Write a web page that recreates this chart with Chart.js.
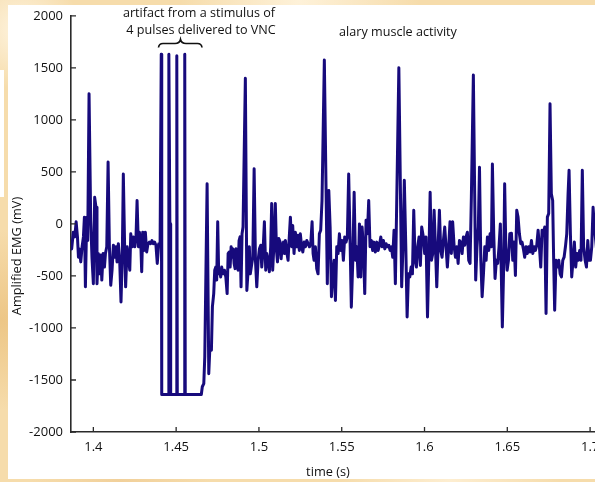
<!DOCTYPE html>
<html>
<head>
<meta charset="utf-8">
<script src="https://cdn.jsdelivr.net/npm/chart.js@4.4.1/dist/chart.umd.min.js"></script>
<style>
  html, body { margin: 0; padding: 0; width: 595px; height: 482px; overflow: hidden; }
  body {
    position: relative;
    background-color: #f6dcab;
    background-image:
      radial-gradient(circle at 20px 30px, rgba(255,246,228,0.9) 0, rgba(255,246,228,0) 60px),
      radial-gradient(circle at 300px 2px, rgba(255,244,222,0.9) 0, rgba(255,244,222,0) 120px),
      radial-gradient(circle at 2px 320px, rgba(236,196,130,0.9) 0, rgba(236,196,130,0) 90px),
      radial-gradient(circle at 450px 480px, rgba(255,242,218,0.8) 0, rgba(255,242,218,0) 110px),
      radial-gradient(circle at 120px 482px, rgba(240,205,150,0.8) 0, rgba(240,205,150,0) 90px);
  }
  #panel { position: absolute; left: 8px; top: 5px; width: 640px; height: 474px; background: #ffffff; }
  #scrap { position: absolute; left: 0; top: 70px; width: 4px; height: 127px; background: #ffffff; overflow: hidden; }
  #scrap span { position: absolute; left: -5px; top: 73px; font: 11px 'Open Sans', sans-serif; color: #333; }
  #wrap { position: absolute; left: 0; top: 0; width: 640px; height: 482px; }
</style>
</head>
<body>
<div id="panel"></div>
<div id="scrap"><span>?</span></div>
<div id="wrap"><canvas id="emg" width="640" height="482" style="width:640px;height:482px"></canvas></div>
<script>
// Amplified EMG recording, time in seconds, amplitude in mV
const timeS = [
  1.3859,1.3869,1.3879,1.3888,1.3896,1.3904,1.3910,1.3916,1.3924,1.3932,1.3940,1.3946,1.3952,1.3960,1.3966,1.3974,
  1.3984,1.3992,1.4000,1.4008,1.4016,1.4022,1.4030,1.4036,1.4045,1.4051,1.4059,1.4067,1.4073,1.4081,1.4089,1.4097,
  1.4105,1.4113,1.4121,1.4129,1.4137,1.4143,1.4151,1.4159,1.4167,1.4175,1.4181,1.4189,1.4195,1.4204,1.4212,1.4220,
  1.4226,1.4234,1.4242,1.4250,1.4258,1.4264,1.4272,1.4278,1.4286,1.4292,1.4298,1.4306,1.4314,1.4322,1.4330,1.4338,
  1.4346,1.4354,1.4362,1.4370,1.4378,1.4386,1.4395,1.4403,
  // stimulus artifact (4 pulses) and recovery
  1.4410,1.4413,1.4453,1.4456,1.4462,1.4465,1.4467,1.4501,1.4504,1.4507,1.4549,1.4552,1.4555,1.4652,1.4658,1.4667,
  1.4673,1.4687,1.4697,1.4703,1.4713,1.4719,1.4727,1.4733,1.4739,1.4745,1.4751,1.4757,1.4763,1.4769,1.4775,1.4783,
  1.4792,1.4800,1.4808,1.4814,1.4820,1.4826,1.4832,1.4838,1.4844,1.4850,1.4856,1.4862,1.4868,1.4874,1.4880,1.4886,
  1.4892,1.4898,1.4904,1.4918,1.4927,
  1.4936,1.4942,1.4948,1.4957,1.4963,1.4971,1.4979,1.4987,1.4995,1.5003,1.5011,1.5017,1.5025,1.5033,1.5041,1.5047,
  1.5055,1.5063,1.5071,1.5077,1.5083,1.5091,1.5099,1.5106,1.5112,1.5120,1.5128,1.5134,1.5140,1.5148,1.5154,1.5160,
  1.5168,1.5176,1.5182,1.5190,1.5198,1.5204,1.5212,1.5220,1.5228,1.5236,1.5244,1.5250,1.5258,1.5265,1.5273,1.5281,
  1.5289,1.5297,1.5305,1.5313,1.5321,1.5327,1.5333,1.5341,1.5349,1.5357,1.5365,1.5373,1.5381,1.5395,1.5413,1.5422,
  1.5430,1.5438,1.5446,1.5454,1.5462,
  1.5470,1.5478,1.5486,1.5494,1.5502,1.5510,1.5518,1.5526,1.5534,1.5542,1.5550,1.5558,1.5567,1.5575,1.5583,1.5591,
  1.5599,1.5607,1.5615,1.5623,1.5631,1.5639,1.5647,1.5655,1.5663,1.5671,1.5679,1.5687,1.5695,1.5703,1.5712,1.5720,
  1.5728,1.5736,1.5744,1.5752,1.5760,1.5768,1.5776,1.5784,1.5792,1.5800,1.5808,1.5816,1.5824,1.5832,1.5845,1.5862,
  1.5870,1.5878,1.5887,1.5895,1.5903,1.5911,1.5919,1.5927,1.5935,1.5943,1.5951,1.5959,1.5967,1.5975,1.5983,
  1.5993,1.6001,1.6009,1.6018,1.6026,1.6034,1.6042,1.6050,1.6058,1.6066,1.6074,1.6082,1.6090,1.6098,1.6106,1.6114,
  1.6122,1.6130,1.6138,1.6146,1.6154,1.6162,1.6170,1.6179,1.6187,1.6195,1.6203,1.6211,1.6219,1.6227,1.6235,1.6243,
  1.6251,1.6259,1.6267,1.6275,1.6283,1.6295,1.6303,1.6309,1.6317,1.6325,1.6332,1.6340,1.6348,1.6356,1.6364,1.6372,
  1.6380,1.6388,1.6396,1.6404,1.6410,1.6418,1.6426,1.6434,1.6442,1.6450,1.6458,1.6470,1.6478,1.6484,1.6491,1.6499,
  1.6507,1.6515,
  1.6525,1.6533,1.6541,1.6549,1.6557,1.6565,1.6573,1.6581,1.6589,1.6597,1.6605,1.6613,1.6621,1.6629,1.6637,1.6646,
  1.6654,1.6662,1.6670,1.6678,1.6686,1.6694,1.6702,1.6710,1.6718,1.6726,1.6734,1.6742,1.6750,1.6758,1.6766,1.6774,
  1.6780,1.6786,1.6794,1.6802,1.6811,1.6819,1.6827,1.6835,1.6843,1.6851,1.6859,1.6867,1.6873,1.6881,1.6889,1.6897,
  1.6905,1.6913,1.6921,1.6929,1.6937,1.6945,1.6953,1.6961,1.6970,1.6978,1.6986,1.6994,1.7002,1.7010,1.7018,1.7026,
  1.7040,1.7055
];
const emgMv = [
  -205,-240,-80,-125,20,-125,-320,-240,-365,-220,-125,65,-605,65,-160,1250,
  35,-335,-575,255,160,-575,-285,-480,-300,-540,-285,-415,-285,-220,595,-220,
  -590,-445,-205,-320,-220,-365,-190,-350,-750,-285,480,-220,-605,-220,-335,-445,
  -95,-220,-125,-220,-110,225,-220,-80,-160,-460,-80,-255,-80,-270,-190,-175,
  -190,-160,-190,-175,-205,-380,-190,-205,
  1630,-1640,-1640,1630,20,0,-1640,-1640,1615,-1640,-1640,1630,-1640,-1640,-1565,-1535,
  -1275,385,-1440,-1215,-1215,-795,-670,-445,-415,-540,20,-480,-445,-510,-415,-480,
  -445,-510,-670,-285,-270,-415,-220,-320,-240,-380,-430,-240,-350,-445,-160,-125,
  -605,-95,-30,1400,-640,
  -415,-220,-480,-380,-320,530,-350,-605,-350,-240,-205,-415,-255,20,-445,-285,
  -350,-460,-220,195,-445,-190,195,-255,-365,-140,-175,-335,-220,-175,-285,-160,
  -270,-350,-160,65,-220,-15,-285,-80,-220,-110,-255,-95,-220,-270,-175,-220,
  -160,-190,-220,-190,20,-285,-350,-220,-430,-480,-95,-60,225,1575,-575,320,
  -30,-700,-480,-350,-735,
  -220,-285,-95,-255,-160,-350,-125,-175,-125,480,-125,-800,-350,305,-350,-220,
  -510,0,-510,-30,-220,-670,35,-95,225,-220,-160,-255,-175,-270,-175,-255,
  -205,-125,-220,-160,-240,-190,-220,-205,-255,-220,-320,-60,-575,195,1500,-605,
  -220,420,-220,-895,-480,-510,-415,-480,130,-350,-415,-220,-125,-400,-30,
  -125,-285,-125,-895,-350,305,-350,-285,130,-220,-605,-220,130,-255,-320,-160,
  -30,-220,-415,-220,20,-285,20,-220,-320,-220,-380,-160,-175,-285,-125,-205,
  -125,-80,-350,-380,260,1430,290,-540,-220,-30,545,-350,-700,-480,-220,-350,
  -125,-255,-95,-220,575,-95,-525,-350,-380,-220,0,-990,-415,385,-220,-445,
  -350,-95,
  -90,-350,-175,-495,130,65,-95,-190,-175,-240,-320,-220,-285,-220,-270,-160,
  -285,-220,-255,-205,-60,-220,-415,-60,-95,-30,-860,65,100,1155,290,225,
  -350,-830,-350,-415,-350,-480,-510,-350,-320,-220,-95,290,515,-95,-510,-350,
  -175,-415,-285,-350,-255,-350,515,-220,-350,-415,-160,-350,-350,-220,160,-30,
  -260,-200
];

const xTickValues = [1.4, 1.45, 1.5, 1.55, 1.6, 1.65, 1.7];
const yTickValues = [-2000, -1500, -1000, -500, 0, 500, 1000, 1500, 2000];
const xRange = [1.3865, 1.7241];
const yRange = [-2000, 2000];

const xTitle = 'time (s)';
const yTitle = 'Amplified EMG (mV)';
const noteArtifact = ['artifact from a stimulus of', '4 pulses delivered to VNC'];
const noteMuscle = 'alary muscle activity';

const FONT = "'Open Sans', 'Noto Sans', sans-serif";
const TEXT = '#111111';
const AXIS = '#2a2a2a';
const LINE = '#170a7c';

const points = timeS.map((t, i) => ({ x: t, y: emgMv[i] }));

const fmtTick = v => String(Math.round(v * 100) / 100);

// inward tick marks, axis titles and the text notes
const decor = {
  id: 'decor',
  afterDraw(chart) {
    const { ctx, scales: { x, y } } = chart;
    ctx.save();
    ctx.strokeStyle = AXIS;
    ctx.lineWidth = 1.3;
    ctx.beginPath();
    yTickValues.forEach(v => {
      const py = y.getPixelForValue(v);
      ctx.moveTo(x.left, py);
      ctx.lineTo(x.left + 5, py);
    });
    xTickValues.forEach(v => {
      const px = x.getPixelForValue(v);
      ctx.moveTo(px, y.bottom);
      ctx.lineTo(px, y.bottom - 5);
    });
    ctx.stroke();

    ctx.fillStyle = TEXT;
    ctx.font = '12.8px ' + FONT;
    ctx.textAlign = 'center';
    ctx.textBaseline = 'middle';
    ctx.fillText(xTitle, 328, 472);

    ctx.save();
    ctx.translate(17, 256);
    ctx.rotate(-Math.PI / 2);
    ctx.fillText(yTitle, 0, 0);
    ctx.restore();

    ctx.font = '12.6px ' + FONT;
    ctx.fillText(noteArtifact[0], 199, 13);
    ctx.fillText(noteArtifact[1], 201, 30);
    ctx.fillText(noteMuscle, 398, 32);

    // curly brace over the artifact pulses
    ctx.strokeStyle = '#111';
    ctx.lineWidth = 1.7;
    ctx.beginPath();
    ctx.moveTo(158.5, 47.5);
    ctx.quadraticCurveTo(159, 43.5, 163, 43.5);
    ctx.lineTo(175, 43.5);
    ctx.quadraticCurveTo(179.5, 43.5, 180.5, 39.5);
    ctx.quadraticCurveTo(181.5, 43.5, 186, 43.5);
    ctx.lineTo(197.5, 43.5);
    ctx.quadraticCurveTo(201.5, 43.5, 202, 47.5);
    ctx.stroke();
    ctx.restore();
  }
};

new Chart(document.getElementById('emg').getContext('2d'), {
  type: 'line',
  data: {
    datasets: [{
      data: points,
      borderColor: LINE,
      borderWidth: 3,
      borderJoinStyle: 'round',
      borderCapStyle: 'round',
      pointRadius: 0,
      tension: 0,
      fill: false
    }]
  },
  options: {
    responsive: false,
    animation: false,
    events: [],
    layout: { padding: { left: 0, top: 15, right: 10, bottom: 0 } },
    plugins: { legend: { display: false }, tooltip: { enabled: false } },
    scales: {
      x: {
        type: 'linear',
        min: xRange[0],
        max: xRange[1],
        grid: { display: false, drawTicks: false },
        border: { display: true, color: AXIS, width: 1.6 },
        ticks: {
          padding: 7, color: TEXT, font: { family: FONT, size: 13 },
          maxRotation: 0, autoSkip: false, includeBounds: false,
          callback: v => fmtTick(v)
        },
        afterBuildTicks: s => { s.ticks = xTickValues.map(v => ({ value: v })); },
        afterFit: s => { s.height = 50; }
      },
      y: {
        type: 'linear',
        min: yRange[0],
        max: yRange[1],
        grid: { display: false, drawTicks: false },
        border: { display: true, color: AXIS, width: 1.6 },
        ticks: {
          padding: 8, color: TEXT, font: { family: FONT, size: 13 },
          autoSkip: false, includeBounds: false,
          callback: v => String(v)
        },
        afterBuildTicks: s => { s.ticks = yTickValues.map(v => ({ value: v })); },
        afterFit: s => { s.width = 71; }
      }
    }
  },
  plugins: [decor]
});
</script>
</body>
</html>
